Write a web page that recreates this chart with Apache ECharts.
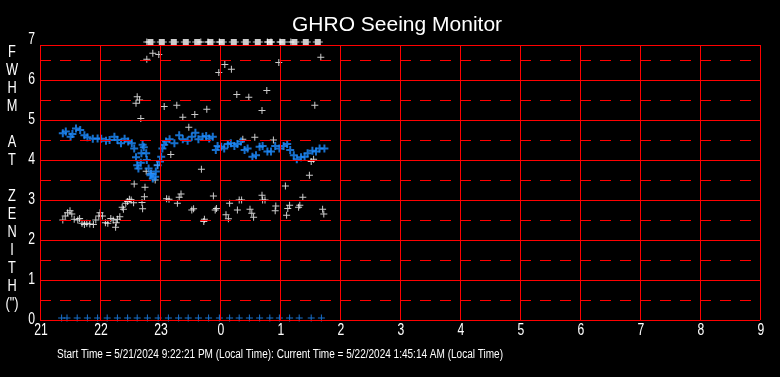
<!DOCTYPE html>
<html>
<head>
<meta charset="utf-8">
<title>GHRO Seeing Monitor</title>
<script src="https://cdn.jsdelivr.net/npm/echarts@6/dist/echarts.min.js"></script>
<style>
  html, body { margin: 0; padding: 0; background: #000; }
  #chart { width: 780px; height: 377px; }
</style>
</head>
<body>
<div id="chart"></div>
<script>
// GHRO seeing monitor - FWHM at zenith vs local hour (hours past 24 = next day)

const chartTitle = 'GHRO Seeing Monitor';
const footerText = 'Start Time = 5/21/2024 9:22:21 PM (Local Time): Current Time = 5/22/2024 1:45:14 AM (Local Time)';
const yTitleLetters = ['F', 'W', 'H', 'M', '', 'A', 'T', '', 'Z', 'E', 'N', 'I', 'T', 'H', '(")'];

const hourTicks = [21, 22, 23, 24, 25, 26, 27, 28, 29, 30, 31, 32, 33];
const fwhmTicks = [0, 1, 2, 3, 4, 5, 6, 7];
const solidLevels = [0, 1, 2, 3, 4, 5, 6];
const dashedLevels = [0.5, 1.5, 2.5, 3.5, 4.5, 5.5, 6.5];
const plotTop = 6.875;

// blue: seeing corrected to zenith
const zenithSeeing = [
    [21.38, 4.67], [21.43, 4.71], [21.51, 4.58], [21.54, 4.65], [21.60, 4.79], [21.67, 4.75],
    [21.74, 4.62], [21.79, 4.57], [21.88, 4.53], [21.96, 4.54], [22.02, 4.53], [22.10, 4.48],
    [22.16, 4.50], [22.24, 4.58], [22.29, 4.50], [22.35, 4.42], [22.41, 4.53], [22.47, 4.46],
    [22.53, 4.42], [22.57, 4.29], [22.60, 4.07], [22.62, 3.87], [22.64, 3.79], [22.68, 3.93],
    [22.69, 4.17], [22.73, 4.32], [22.71, 4.38], [22.77, 4.17], [22.78, 4.00], [22.81, 3.79],
    [22.84, 3.62], [22.85, 3.65], [22.88, 3.54], [22.92, 3.58], [22.93, 3.71], [22.96, 3.87],
    [23.00, 3.96], [23.02, 4.08], [23.04, 4.29], [23.07, 4.38], [23.10, 4.46], [23.16, 4.52],
    [23.24, 4.42], [23.32, 4.62], [23.38, 4.52], [23.46, 4.48], [23.53, 4.58], [23.59, 4.68],
    [23.64, 4.52], [23.71, 4.58], [23.77, 4.60], [23.82, 4.54], [23.88, 4.58], [23.93, 4.25],
    [23.96, 4.35], [24.02, 4.33], [24.07, 4.29], [24.13, 4.40], [24.18, 4.42], [24.24, 4.35],
    [24.29, 4.40], [24.35, 4.46], [24.41, 4.25], [24.46, 4.29], [24.54, 4.08], [24.60, 4.12],
    [24.66, 4.33], [24.71, 4.35], [24.79, 4.21], [24.85, 4.21], [24.92, 4.35], [24.99, 4.29],
    [25.06, 4.35], [25.12, 4.40], [25.17, 4.25], [25.23, 4.12], [25.28, 4.02], [25.35, 4.07],
    [25.41, 4.08], [25.46, 4.17], [25.54, 4.23], [25.60, 4.21], [25.66, 4.29], [25.74, 4.29]
];

// white: raw seeing
const rawSeeing = [
    [21.38, 2.50], [21.42, 2.60], [21.46, 2.68], [21.50, 2.73], [21.53, 2.65], [21.57, 2.52],
    [21.63, 2.50], [21.66, 2.54], [21.70, 2.42], [21.74, 2.39], [21.78, 2.42], [21.83, 2.40],
    [21.89, 2.39], [21.93, 2.50], [21.98, 2.60], [22.00, 2.68], [22.04, 2.60], [22.09, 2.43],
    [22.13, 2.42], [22.18, 2.54], [22.22, 2.50], [22.27, 2.43], [22.26, 2.32], [22.29, 2.52],
    [22.33, 2.58], [22.37, 2.82], [22.39, 2.77], [22.43, 2.92], [22.46, 2.96], [22.49, 3.02],
    [22.52, 3.00], [22.56, 2.93], [22.57, 3.40], [22.62, 5.58], [22.66, 5.50], [22.60, 5.42],
    [22.68, 5.04], [22.70, 2.94], [22.71, 2.78], [22.74, 3.08], [22.75, 3.32], [22.77, 3.72],
    [22.78, 6.52], [22.85, 3.67], [22.88, 6.67], [22.92, 3.50], [22.96, 3.87], [22.98, 6.64],
    [23.07, 5.34], [23.11, 3.03], [23.15, 3.02], [23.18, 4.14], [23.28, 5.37], [23.29, 2.92],
    [23.32, 3.07], [23.35, 3.15], [23.38, 5.07], [23.48, 4.82], [23.53, 2.75], [23.56, 2.78],
    [23.58, 5.14], [23.69, 3.77], [23.73, 2.46], [23.74, 2.52], [23.78, 5.27], [23.89, 3.10],
    [23.92, 2.75], [23.94, 2.79], [23.98, 6.19], [24.08, 6.39], [24.10, 2.63], [24.14, 2.53],
    [24.16, 2.92], [24.19, 6.27], [24.28, 5.64], [24.29, 2.75], [24.32, 3.00], [24.36, 3.00],
    [24.38, 4.52], [24.48, 5.57], [24.50, 2.77], [24.53, 2.67], [24.56, 2.57], [24.58, 4.57],
    [24.70, 5.24], [24.70, 3.12], [24.71, 3.00], [24.75, 3.00], [24.78, 5.74], [24.89, 4.50],
    [24.92, 2.73], [24.93, 2.85], [24.98, 6.44], [25.09, 3.35], [25.11, 2.62], [25.13, 2.79],
    [25.16, 2.87], [25.31, 2.82], [25.33, 2.87], [25.38, 3.07], [25.49, 3.62], [25.52, 3.96],
    [25.56, 4.02], [25.58, 5.37], [25.68, 6.57], [25.71, 2.77], [25.73, 2.65]
];

// blue crosses on the floor: rejected measurements
const rejectedHours = [
    21.36, 21.45, 21.62, 21.79, 21.96, 22.12, 22.29, 22.46, 22.62, 22.79, 22.97, 23.14, 23.31, 23.47,
    23.64, 23.81, 23.99, 24.16, 24.32, 24.49, 24.66, 24.83, 24.99, 25.16, 25.32, 25.52, 25.69
];
const rejectedValue = 0.05;

// white marks stuck on the ceiling (off scale)
const cappedSquareHours = [
    22.84, 23.03, 23.23, 23.43, 23.62, 23.84, 24.03, 24.23, 24.43, 24.63, 24.83, 25.04, 25.24, 25.43, 25.63
];
const cappedPlusHours = [22.78, 23.68, 23.80, 23.99, 24.79, 24.85, 25.00, 25.18];
const cappedValue = 6.95;

const plusPath = 'path://M3,0H4V3H7V4H4V7H3V4H0V3H3Z';
const thickPlusPath = 'path://M3,0H5V3H8V5H5V8H3V5H0V3H3Z';
const squarePlusPath = 'path://M2,0H8V2H10V3H8V5H2V3H0V2H2Z';

const sansFont = '"Liberation Sans", Arial, sans-serif';
const blue = '#1e8cff';
const red = '#ff0000';

function buildGridLines() {
    const lines = [];
    const solid = { type: 'solid', color: red, width: 1 };
    const dashed = { type: [11, 9], color: red, width: 1 };
    solidLevels.forEach(v => lines.push({ yAxis: v, lineStyle: solid }));
    dashedLevels.forEach(v => lines.push({ yAxis: v, lineStyle: dashed }));
    lines.push([{ coord: [hourTicks[0], plotTop], lineStyle: solid }, { coord: [hourTicks[hourTicks.length - 1], plotTop] }]);
    hourTicks.forEach(h => lines.push([{ coord: [h, 0], lineStyle: solid }, { coord: [h, plotTop] }]));
    return lines;
}

// narrow-looking text: measure with Liberation Sans then squeeze horizontally
const measureCtx = document.createElement('canvas').getContext('2d');
function textWidth(str, size) {
    measureCtx.font = size + 'px ' + sansFont;
    return measureCtx.measureText(str).width;
}

const chart = echarts.init(document.getElementById('chart'), null, { renderer: 'canvas' });

const option = {
    backgroundColor: '#000',
    animation: false,
    title: {
        text: chartTitle,
        left: 287,
        top: 10,
        textStyle: { color: '#fff', fontSize: 21, fontWeight: 'normal', fontFamily: sansFont }
    },
    grid: { left: 40, top: 40, width: 720, height: 280 },
    xAxis: {
        type: 'value',
        min: 21,
        max: 33,
        interval: 1,
        axisLine: { show: false },
        axisTick: { show: false },
        splitLine: { show: false },
        axisLabel: { show: false }
    },
    yAxis: {
        type: 'value',
        min: 0,
        max: 7,
        interval: 1,
        axisLine: { show: false },
        axisTick: { show: false },
        splitLine: { show: false },
        axisLabel: { show: false }
    },
    series: [
        {
            name: 'grid',
            type: 'line',
            data: [],
            z: 1,
            silent: true,
            markLine: {
                silent: true,
                symbol: 'none',
                label: { show: false },
                animation: false,
                lineStyle: { color: red, width: 1, type: 'solid' },
                data: buildGridLines()
            }
        },
        {
            name: 'raw',
            type: 'scatter',
            z: 3,
            symbol: plusPath,
            symbolSize: 7,
            itemStyle: { color: '#fff' },
            data: rawSeeing
        },
        {
            name: 'zenith',
            type: 'scatter',
            z: 4,
            symbol: thickPlusPath,
            symbolSize: 8,
            itemStyle: { color: blue },
            data: zenithSeeing
        },
        {
            name: 'rejected',
            type: 'scatter',
            z: 4,
            symbol: plusPath,
            symbolSize: 7,
            itemStyle: { color: blue },
            data: rejectedHours.map(h => [h, rejectedValue])
        },
        {
            name: 'capped squares',
            type: 'scatter',
            z: 3,
            symbol: squarePlusPath,
            symbolSize: [10, 6],
            itemStyle: { color: '#fff' },
            data: cappedSquareHours.map(h => [h, cappedValue])
        },
        {
            name: 'capped plus',
            type: 'scatter',
            z: 3,
            symbol: plusPath,
            symbolSize: 7,
            itemStyle: { color: '#fff' },
            data: cappedPlusHours.map(h => [h, cappedValue])
        }
    ]
};

chart.setOption(option);

// axis labels and texts in a condensed look, placed through the chart's own scales
const labelSize = 16;
const labelSqueeze = 0.76;
const graphics = [];

hourTicks.forEach(h => {
    const p = chart.convertToPixel({ xAxisIndex: 0, yAxisIndex: 0 }, [h, 0]);
    graphics.push({
        type: 'text', x: p[0] + 1, y: 331, scaleX: labelSqueeze, silent: true,
        style: { text: String(h % 24), fill: '#fff', font: labelSize + 'px ' + sansFont, align: 'center', verticalAlign: 'middle' }
    });
});
fwhmTicks.forEach(v => {
    const p = chart.convertToPixel({ xAxisIndex: 0, yAxisIndex: 0 }, [21, v]);
    graphics.push({
        type: 'text', x: p[0] - 5, y: p[1], scaleX: labelSqueeze, silent: true,
        style: { text: String(v), fill: '#fff', font: labelSize + 'px ' + sansFont, align: 'right', verticalAlign: 'middle' }
    });
});
yTitleLetters.forEach((ch, i) => {
    if (!ch) return;
    graphics.push({
        type: 'text', x: 12, y: 53 + i * 18, scaleX: 0.8, silent: true,
        style: { text: ch, fill: '#fff', font: '16px ' + sansFont, align: 'center', verticalAlign: 'middle' }
    });
});
const footerSize = 12;
graphics.push({
    type: 'text', x: 57, y: 355, scaleX: 446 / textWidth(footerText, footerSize), silent: true,
    style: { text: footerText, fill: '#fff', font: footerSize + 'px ' + sansFont, align: 'left', verticalAlign: 'middle' }
});

chart.setOption({ graphic: graphics });
</script>
</body>
</html>
